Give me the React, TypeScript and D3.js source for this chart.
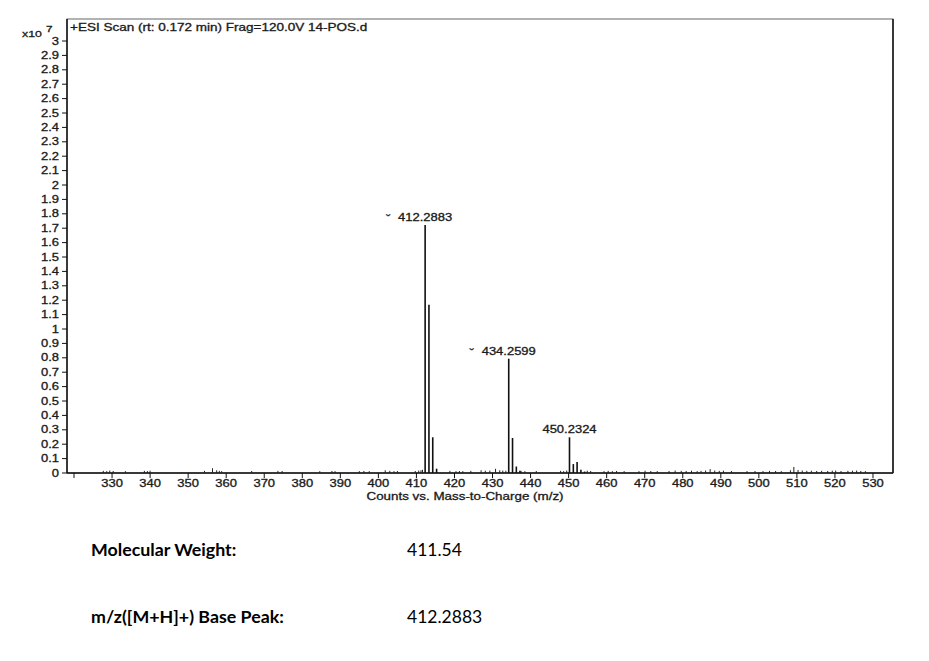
import React from "react";
import * as d3 from "d3";

const header = "+ESI Scan (rt: 0.172 min) Frag=120.0V 14-POS.d";
const xTitle = "Counts vs. Mass-to-Charge (m/z)";
const yTicks = d3.range(0, 31).map((i) => i / 10);
const xTicks = d3.range(320, 531, 10);

// major peaks: m/z, intensity (x10^7)
const peakMz = [412.2883, 413.29, 414.29, 415.3, 434.2599, 435.26, 436.26, 437.2, 450.2324, 451.24, 452.23, 453.23, 454.2];
const peakInt = [1.722, 1.169, 0.248, 0.03, 0.794, 0.243, 0.045, 0.015, 0.248, 0.062, 0.076, 0.022, 0.01];

// small noise peaks
const noiseMz = [327.7, 328.6, 329.4, 330.3, 333.5, 338.5, 339.3, 340.0, 354.3, 356.4, 357.5, 358.2, 358.8, 366.7, 373.6, 374.7,
  384.6, 387.8, 388.6, 395.0, 396.2, 397.6, 401.8, 403.0, 404.1, 405.0, 409.7, 410.6, 411.2, 411.6, 418.8, 420.4, 421.3, 422.2,
  424.3, 427.0, 428.1, 429.3, 430.8, 431.9, 432.7, 433.5, 437.5, 438.5, 441.5, 447.9, 448.7, 449.5, 454.9, 455.8, 459.3, 460.4,
  461.5, 462.6, 464.6, 468.5, 470.1, 471.6, 473.3, 476.4, 478.0, 479.6, 480.9, 482.3, 483.8, 484.8, 486.0, 487.2, 488.4, 489.6,
  490.7, 492.8, 496.9, 499.0, 501.1, 502.8, 504.4, 505.9, 508.3, 509.2, 510.3, 511.4, 512.6, 513.8, 515.2, 516.5, 518.1, 519.3,
  520.2, 521.6, 523.4, 524.6, 525.7, 526.8, 528.0];
const noiseInt = [0.008, 0.006, 0.01, 0.007, 0.006, 0.008, 0.006, 0.009, 0.008, 0.026, 0.012, 0.008, 0.006, 0.007, 0.008, 0.007,
  0.006, 0.007, 0.006, 0.006, 0.007, 0.006, 0.012, 0.008, 0.006, 0.007, 0.007, 0.01, 0.012, 0.015, 0.008, 0.006, 0.007, 0.006,
  0.008, 0.012, 0.009, 0.01, 0.022, 0.012, 0.01, 0.009, 0.008, 0.006, 0.007, 0.008, 0.006, 0.01, 0.009, 0.007, 0.006, 0.008,
  0.006, 0.007, 0.006, 0.006, 0.009, 0.007, 0.006, 0.007, 0.01, 0.008, 0.007, 0.009, 0.006, 0.008, 0.01, 0.02, 0.01, 0.008,
  0.009, 0.007, 0.006, 0.007, 0.006, 0.008, 0.007, 0.006, 0.012, 0.035, 0.014, 0.01, 0.008, 0.009, 0.007, 0.008, 0.007, 0.009,
  0.01, 0.007, 0.008, 0.009, 0.01, 0.007, 0.006];

const labelMz = [412.2883, 434.2599, 450.2324];
const labelInt = [1.722, 0.794, 0.248];
const labelText = ["412.2883", "434.2599", "450.2324"];
const labelMarked = [true, true, false];

const infoLabels = ["Molecular Weight:", "m/z([M+H]+) Base Peak:"];
const infoValues = ["411.54", "412.2883"];

const W = 929, H = 661;
const plot = { left: 67, right: 893, top: 19, bottom: 473 };
const FONT = "'Liberation Sans', Arial, sans-serif";
const SX = 1.3;

function T({ x, y, anchor = "start", size = 10, children, fill = "#1a1a1a" }: any) {
  return (
    <text transform={`translate(${x},${y}) scale(${SX},1)`} textAnchor={anchor} fontFamily={FONT} fontSize={size} fill={fill}
      stroke={fill} strokeWidth={0.3}>
      {children}
    </text>
  );
}

export default function App() {
  const x = d3.scaleLinear().domain([318.16, 535.26]).range([plot.left, plot.right]);
  const y = d3.scaleLinear().domain([0, 3]).range([473, 41]);

  return (
    <svg width={W} height={H} style={{ position: "absolute", left: 0, top: 0, background: "#fff" }}>
      <rect x={0} y={0} width={W} height={H} fill="#fff" />
      {/* frame */}
      <rect x={plot.left} y={plot.top} width={plot.right - plot.left} height={plot.bottom - plot.top} fill="none" stroke="#666" strokeWidth={1} />
      <line x1={plot.left} x2={plot.left} y1={plot.top} y2={plot.bottom} stroke="#111" strokeWidth={1.5} />
      <line x1={plot.right} x2={plot.right} y1={plot.top} y2={plot.bottom} stroke="#111" strokeWidth={1.5} />
      <line x1={plot.left} x2={plot.right} y1={plot.bottom} y2={plot.bottom} stroke="#111" strokeWidth={1.5} />

      {/* y ticks */}
      {yTicks.map((t) => (
        <g key={"y" + t}>
          <line x1={plot.left - 5} x2={plot.left} y1={y(t)} y2={y(t)} stroke="#111" strokeWidth={1} />
          <T x={plot.left - 8} y={y(t) + 3.5} anchor="end">{t === 0 ? "0" : d3.format(".1~f")(t)}</T>
        </g>
      ))}
      {/* x ticks */}
      {xTicks.map((t) => (
        <g key={"x" + t}>
          <line x1={x(t)} x2={x(t)} y1={plot.bottom} y2={plot.bottom + 5} stroke="#111" strokeWidth={1} />
          {t !== 320 && <T x={x(t)} y={487} anchor="middle">{t}</T>}
        </g>
      ))}

      <T x={465} y={500} anchor="middle" size={10.3}>{xTitle}</T>
      <T x={22} y={37} size={9.5}>x10</T>
      <T x={46} y={32} size={9}>7</T>
      <T x={70} y={31} size={10.4}>{header}</T>

      {/* noise */}
      {noiseMz.map((m, i) => (
        <line key={"n" + i} x1={x(m)} x2={x(m)} y1={y(0)} y2={y(noiseInt[i]) - 1} stroke="#222" strokeWidth={1} />
      ))}
      {/* peaks */}
      {peakMz.map((m, i) => (
        <line key={"p" + i} x1={x(m)} x2={x(m)} y1={y(0)} y2={y(peakInt[i])} stroke="#111" strokeWidth={1.6} />
      ))}
      {/* peak labels */}
      {labelMz.map((m, i) => (
        <g key={"l" + i}>
          <T x={x(m)} y={y(labelInt[i]) - 4} anchor="middle" size={10}>{labelText[i]}</T>
          {labelMarked[i] && <T x={x(m) - 37} y={y(labelInt[i]) - 2} anchor="middle" size={10}>ˇ</T>}
        </g>
      ))}

      {/* info */}
      {infoLabels.map((l, i) => (
        <g key={"i" + i}>
          <text x={91} y={556 + i * 67} fontFamily="Lato, 'Open Sans', sans-serif" fontWeight="bold" fontSize={17.8} fill="#000">{l}</text>
          <text x={407} y={556 + i * 67} fontFamily="Lato, 'Open Sans', sans-serif" fontSize={17.5} fill="#000">{infoValues[i]}</text>
        </g>
      ))}
    </svg>
  );
}
